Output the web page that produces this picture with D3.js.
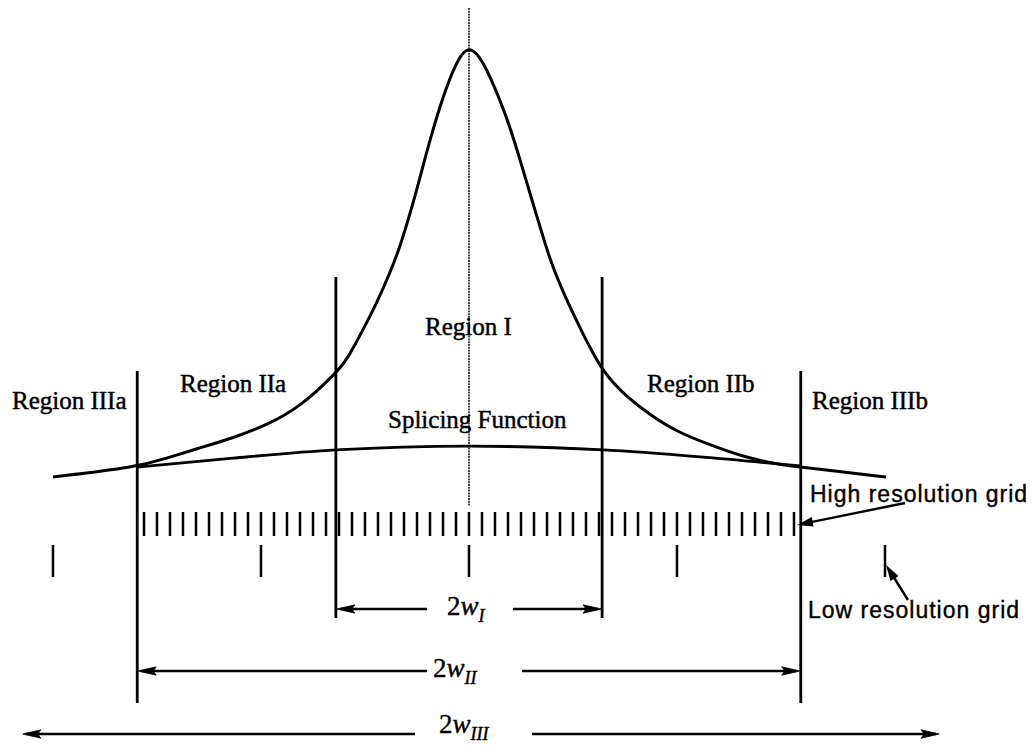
<!DOCTYPE html>
<html>
<head>
<meta charset="utf-8">
<script src="https://cdn.jsdelivr.net/npm/d3@7/dist/d3.min.js"></script>
<style>
  html, body { margin: 0; padding: 0; background: #fff; }
  svg { display: block; }
  .serif { font-family: "Liberation Serif", "Times New Roman", serif; }
  .sans { font-family: "Liberation Sans", Arial, sans-serif; }
</style>
</head>
<body>
<div id="chart"></div>
<script>
// ---------------- data ----------------
// x in low-resolution grid units (0 = peak centre); y in relative amplitude (peak = 100)
const peakX = [-2.0, -1.596, -1.452, -1.293, -1.135, -0.971, -0.8125, -0.64, -0.587, -0.51, -0.443, -0.38, -0.332, -0.293, -0.26, -0.226, -0.1875, -0.131, -0.059, 0,
               0.067, 0.149, 0.202, 0.25, 0.298, 0.346, 0.394, 0.462, 0.538, 0.644, 0.76, 0.87, 1.0, 1.159, 1.317, 1.481, 1.601, 1.798, 2.005];
const peakY = [0, 2.3, 4.4, 6.8, 9.1, 12.1, 16.3, 24.2, 27.3, 34.3, 40.6, 47.6, 53.6, 59.9, 65.3, 71.6, 78.6, 87.9, 97.2, 100.8,
               97.2, 87.9, 80.9, 73.2, 65.3, 57.6, 49.9, 42.0, 34.3, 24.2, 18.6, 14.5, 10.5, 7.5, 4.7, 3.0, 2.3, 1.2, 0];
const splicingX = [-1.596, -1.135, -0.64, 0, 0.644, 1.11, 1.591];
const splicingY = [2.3, 4.4, 6.3, 7.2, 6.3, 4.7, 2.6];

const wI = 0.64;          // half width of region I
const wII = 1.595;        // half width of region II
const wIIILeft = -2.15;   // extent of the 2w_III arrow
const wIIIRight = 2.265;
const lowResTicks = [-2, -1, 0, 1, 2];
const hiResStep = 1 / 16;
const hiResTicks = d3.range(-25, 26).map(k => k * hiResStep);

const regionLabels = ["Region IIIa", "Region IIa", "Region I", "Region IIb", "Region IIIb"];
const splicingLabel = "Splicing Function";
const highGridLabel = "High resolution grid";
const lowGridLabel = "Low resolution grid";
const widthLabels = [["2w", "I"], ["2w", "II"], ["2w", "III"]];

// ---------------- layout ----------------
const W = 1033, H = 748;
const svg = d3.select("#chart").append("svg").attr("width", W).attr("height", H);
svg.append("rect").attr("width", W).attr("height", H).attr("fill", "#fff");

const x = d3.scaleLinear().domain([-2, 2]).range([53, 885]);
const y = d3.scaleLinear().domain([0, 100]).range([477, 48]);

const ink = "#000";

function arrowHead(g, tipX, tipY, dir) {
  const L = 18, hw = 4.2;
  g.append("path")
    .attr("d", `M${tipX},${tipY} L${tipX - dir * L},${tipY - hw} L${tipX - dir * (L - 3)},${tipY} L${tipX - dir * L},${tipY + hw} Z`)
    .attr("fill", ink).attr("stroke", ink).attr("stroke-width", 0.8);
}

// centre line (thin, dotted)
svg.append("line")
  .attr("x1", x(0)).attr("x2", x(0)).attr("y1", 8).attr("y2", 506)
  .attr("stroke", "#111").attr("stroke-width", 1.5).attr("stroke-dasharray", "2,0.8");

// region boundary lines
[-wI, wI].forEach(v => {
  svg.append("line").attr("x1", x(v)).attr("x2", x(v)).attr("y1", 277).attr("y2", 618)
    .attr("stroke", ink).attr("stroke-width", 2.8);
});
[-wII, wII].forEach(v => {
  svg.append("line").attr("x1", x(v)).attr("x2", x(v)).attr("y1", 371).attr("y2", 703)
    .attr("stroke", ink).attr("stroke-width", 2.8);
});

// curves
const smooth = d3.line().x(d => x(d[0])).y(d => y(d[1])).curve(d3.curveBasis);
svg.append("path").datum(peakX.map((v, i) => [v, peakY[i]]))
  .attr("d", smooth).attr("fill", "none").attr("stroke", ink).attr("stroke-width", 3)
  .attr("stroke-linejoin", "round");
const natural = d3.line().x(d => x(d[0])).y(d => y(d[1])).curve(d3.curveMonotoneX);
svg.append("path").datum(splicingX.map((v, i) => [v, splicingY[i]]))
  .attr("d", natural).attr("fill", "none").attr("stroke", ink).attr("stroke-width", 2.8);

// grids
svg.append("g").selectAll("line").data(hiResTicks).join("line")
  .attr("x1", d => x(d)).attr("x2", d => x(d)).attr("y1", 512).attr("y2", 536)
  .attr("stroke", ink).attr("stroke-width", 2.5);
svg.append("g").selectAll("line").data(lowResTicks).join("line")
  .attr("x1", d => x(d)).attr("x2", d => x(d)).attr("y1", 545).attr("y2", 577)
  .attr("stroke", ink).attr("stroke-width", 2.5);

// region labels
const serif = svg.append("g").attr("class", "serif").attr("font-size", 25).attr("fill", ink)
  .attr("stroke", ink).attr("stroke-width", 0.45);
const labelPos = [[12, 409], [180, 392], [425, 335], [647, 392], [812, 409]];
regionLabels.forEach((t, i) => {
  serif.append("text").attr("x", labelPos[i][0]).attr("y", labelPos[i][1]).text(t);
});
serif.append("text").attr("x", 388).attr("y", 428).text(splicingLabel);

// width dimension arrows
const dims = [
  { a: -wI, b: wI, yy: 609, gapL: 427, gapR: 513, tx: 447, ty: 615 },
  { a: -wII, b: wII, yy: 671, gapL: 427, gapR: 522, tx: 433, ty: 677 },
  { a: wIIILeft, b: wIIIRight, yy: 734, gapL: 415, gapR: 532, tx: 439, ty: 733 }
];
dims.forEach((d, i) => {
  const g = svg.append("g");
  const xl = x(d.a), xr = x(d.b);
  g.append("line").attr("x1", xl + 4).attr("x2", d.gapL).attr("y1", d.yy).attr("y2", d.yy)
    .attr("stroke", ink).attr("stroke-width", 2.3);
  g.append("line").attr("x1", d.gapR).attr("x2", xr - 4).attr("y1", d.yy).attr("y2", d.yy)
    .attr("stroke", ink).attr("stroke-width", 2.3);
  arrowHead(g, xl + 1, d.yy, -1);
  arrowHead(g, xr - 1, d.yy, 1);
  const t = g.append("text").attr("class", "serif").attr("x", d.tx).attr("y", d.ty)
    .attr("font-size", 27).attr("fill", ink).attr("stroke", ink).attr("stroke-width", 0.4);
  t.append("tspan").text("2");
  t.append("tspan").attr("font-style", "italic").text("w");
  t.append("tspan").attr("font-style", "italic").attr("font-size", 18).attr("dy", 7).text(widthLabels[i][1]);
});

// grid annotations
const sans = svg.append("g").attr("class", "sans").attr("font-size", 23)
  .attr("letter-spacing", 1).attr("fill", ink).attr("stroke", ink).attr("stroke-width", 0.4);
sans.append("text").attr("x", 810).attr("y", 502).text(highGridLabel);
sans.append("text").attr("x", 808).attr("y", 618).text(lowGridLabel);

const ga = svg.append("g");
function pointer(x0, y0, tx, ty) {
  const ang = Math.atan2(ty - y0, tx - x0);
  const L = 16, hw = 4.8;
  const bx = tx - Math.cos(ang) * L, by = ty - Math.sin(ang) * L;
  ga.append("line").attr("x1", x0).attr("y1", y0).attr("x2", bx + Math.cos(ang) * 3).attr("y2", by + Math.sin(ang) * 3)
    .attr("stroke", ink).attr("stroke-width", 2.4);
  const px = -Math.sin(ang) * hw, py = Math.cos(ang) * hw;
  ga.append("path").attr("d", `M${tx},${ty} L${bx + px},${by + py} L${bx - px},${by - py} Z`).attr("fill", ink);
}
pointer(905, 503, 797, 525);
pointer(908, 600, 886, 565);
</script>
</body>
</html>
